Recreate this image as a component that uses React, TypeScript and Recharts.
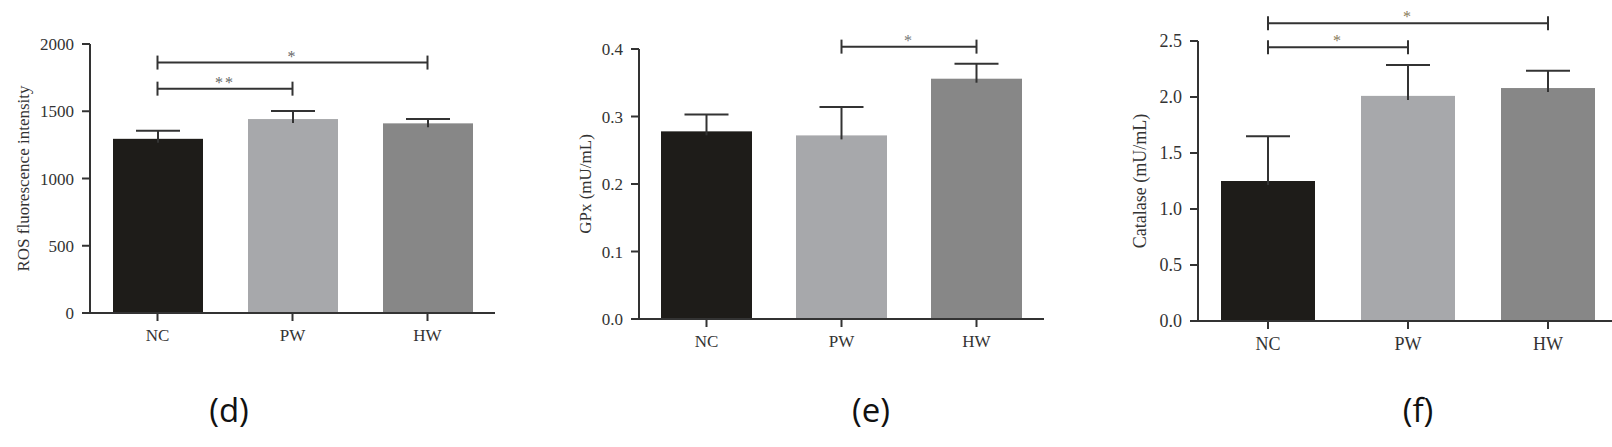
import React from "react";
import { BarChart, Bar, XAxis, YAxis, ReferenceLine } from "recharts";

// groups and bar colours shared by all three panels
const categories = ["NC", "PW", "HW"];
const barColors = ["#1e1c19", "#a7a8ab", "#878787"];

// (d) ROS
const rosMean = [1295, 1442, 1410];
const rosErr = [60, 60, 32];
const rosTicks = [0, 500, 1000, 1500, 2000];
const rosBrackets = [
  { from: "NC", to: "HW", y: 1862, mark: "*" },
  { from: "NC", to: "PW", y: 1668, mark: "**" },
];

// (e) GPx
const gpxMean = [0.278, 0.272, 0.356];
const gpxErr = [0.025, 0.042, 0.022];
const gpxTicks = [0, 0.1, 0.2, 0.3, 0.4];
const gpxBrackets = [{ from: "PW", to: "HW", y: 0.4035, mark: "*" }];

// (f) Catalase
const catMean = [1.25, 2.01, 2.08];
const catErr = [0.4, 0.275, 0.155];
const catTicks = [0, 0.5, 1, 1.5, 2, 2.5];
const catBrackets = [
  { from: "NC", to: "HW", y: 2.658, mark: "*" },
  { from: "NC", to: "PW", y: 2.444, mark: "*" },
];

const SERIF = "'Liberation Serif', 'DejaVu Serif', serif";
const INK = "#333";

function buildData(mean: number[], err: number[]) {
  return categories.map((name, i) => ({
    name,
    value: mean[i],
    err: err[i],
    fill: barColors[i],
  }));
}

// bar plus a one-sided (upper) error bar
function BarWithError(props: any) {
  const { x, y, width, height, payload } = props;
  const cx = x + width / 2;
  const errPx = payload.value ? (payload.err / payload.value) * height : 0;
  const top = y - errPx;
  return (
    <g>
      <rect x={x} y={y} width={width} height={height} fill={payload.fill} />
      <line x1={cx} y1={y + 4} x2={cx} y2={top} stroke={INK} strokeWidth={2} />
      <line x1={cx - 22} y1={top} x2={cx + 22} y2={top} stroke={INK} strokeWidth={2} />
    </g>
  );
}

function Bracket(props: any) {
  const { x1, y1, x2, mark, color } = props;
  return (
    <g>
      <line x1={x1} y1={y1} x2={x2} y2={y1} stroke={INK} strokeWidth={2} />
      <line x1={x1} y1={y1 - 7} x2={x1} y2={y1 + 7} stroke={INK} strokeWidth={2} />
      <line x1={x2} y1={y1 - 7} x2={x2} y2={y1 + 7} stroke={INK} strokeWidth={2} />
      <text
        x={(x1 + x2) / 2}
        y={y1 - 1}
        textAnchor="middle"
        fontFamily={SERIF}
        fontSize={16}
        fill={color}
        letterSpacing={2}
      >
        {mark}
      </text>
    </g>
  );
}

interface PanelProps {
  left: number;
  width: number;
  axisWidth: number;
  top: number;
  bottom: number;
  right: number;
  labelOffset: number;
  barSize: number;
  fontSize: number;
  yLabel: string;
  mean: number[];
  err: number[];
  ticks: number[];
  brackets: { from: string; to: string; y: number; mark: string }[];
  digits: number;
  starColor: string;
}

function Panel(p: PanelProps) {
  const data = buildData(p.mean, p.err);
  const tickStyle = { fontSize: p.fontSize, fill: INK, fontFamily: SERIF };
  return (
    <div style={{ position: "absolute", left: p.left, top: 0 }}>
      <BarChart
        width={p.width}
        height={447}
        data={data}
        barSize={p.barSize}
        margin={{ top: p.top, right: p.right, left: 0, bottom: p.bottom }}
      >
        <XAxis
          dataKey="name"
          height={30}
          tick={tickStyle}
          tickSize={8}
          tickMargin={8}
          axisLine={{ stroke: INK, strokeWidth: 2 }}
          tickLine={{ stroke: INK, strokeWidth: 2 }}
        />
        <YAxis
          width={p.axisWidth}
          domain={[p.ticks[0], p.ticks[p.ticks.length - 1]]}
          ticks={p.ticks}
          tickFormatter={(v: number) => v.toFixed(p.digits)}
          tick={tickStyle}
          tickSize={8}
          tickMargin={8}
          axisLine={{ stroke: INK, strokeWidth: 2 }}
          tickLine={{ stroke: INK, strokeWidth: 2 }}
          label={{
            value: p.yLabel,
            angle: -90,
            position: "insideLeft",
            offset: p.labelOffset,
            style: {
              textAnchor: "middle",
              fontSize: p.fontSize,
              fill: INK,
              fontFamily: SERIF,
            },
          }}
        />
        <Bar dataKey="value" shape={BarWithError} isAnimationActive={false} />
        {p.brackets.map((b, i) => (
          <ReferenceLine
            key={i}
            ifOverflow="visible"
            segment={[
              { x: b.from, y: b.y },
              { x: b.to, y: b.y },
            ]}
            shape={(sp: any) => (
              <Bracket {...sp} mark={b.mark} color={p.starColor} />
            )}
          />
        ))}
      </BarChart>
    </div>
  );
}

const panelTag: React.CSSProperties = {
  position: "absolute",
  top: 388,
  fontFamily: "'Open Sans', 'Noto Sans', sans-serif",
  fontSize: 33,
  color: "#111",
  transform: "translateX(-50%)",
  lineHeight: "44px",
};

export default function App() {
  return (
    <div
      style={{
        position: "absolute",
        left: 0,
        top: 0,
        width: 1612,
        height: 447,
        overflow: "hidden",
        background: "#fff",
      }}
    >
      <Panel
        left={0}
        width={520}
        axisWidth={90}
        top={44}
        bottom={104}
        right={25}
        labelOffset={23}
        barSize={90}
        fontSize={17}
        yLabel="ROS fluorescence intensity"
        mean={rosMean}
        err={rosErr}
        ticks={rosTicks}
        brackets={rosBrackets}
        digits={0}
        starColor="#666"
      />
      <Panel
        left={540}
        width={524}
        axisWidth={99}
        top={49}
        bottom={98}
        right={20}
        labelOffset={45}
        barSize={91}
        fontSize={17}
        yLabel="GPx (mU/mL)"
        mean={gpxMean}
        err={gpxErr}
        ticks={gpxTicks}
        brackets={gpxBrackets}
        digits={1}
        starColor="#777"
      />
      <Panel
        left={1090}
        width={528}
        axisWidth={108}
        top={41}
        bottom={96}
        right={0}
        labelOffset={50}
        barSize={94}
        fontSize={18}
        yLabel="Catalase (mU/mL)"
        mean={catMean}
        err={catErr}
        ticks={catTicks}
        brackets={catBrackets}
        digits={1}
        starColor="#8a7a5a"
      />
      <div style={{ ...panelTag, left: 229 }}>(d)</div>
      <div style={{ ...panelTag, left: 871 }}>(e)</div>
      <div style={{ ...panelTag, left: 1418 }}>(f)</div>
    </div>
  );
}
